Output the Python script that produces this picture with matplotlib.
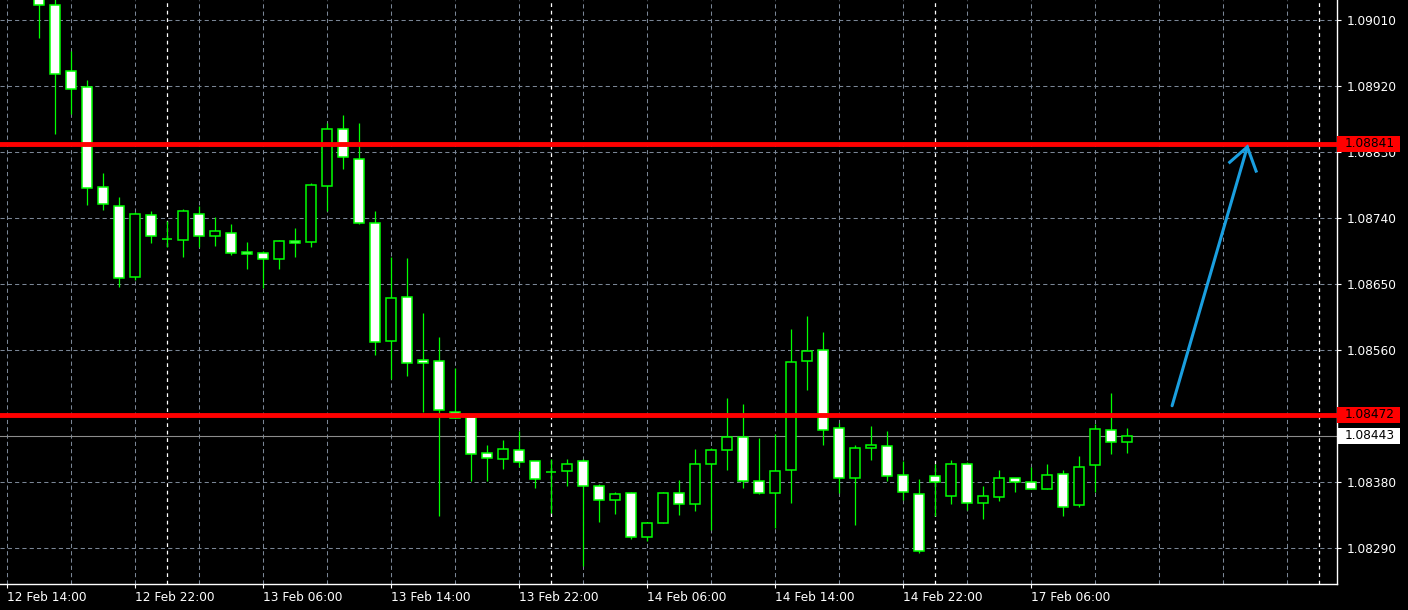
import numpy as np
import matplotlib.pyplot as plt
from matplotlib.patches import Rectangle

# EURUSD H1 candles, bar index 0 = 12 Feb 14:00 (bars 0-1 are above the visible range)
first_bar = 2
opens = [1.09060, 1.09030, 1.08940, 1.08918, 1.08782, 1.08757, 1.08659, 1.08744, 1.08712, 1.08710,
         1.08746, 1.08716, 1.08719, 1.08693, 1.08692, 1.08684, 1.08708, 1.08707, 1.08783, 1.08862,
         1.08821, 1.08733, 1.08572, 1.08632, 1.08546, 1.08545, 1.08476, 1.08469, 1.08419, 1.08412,
         1.08423, 1.08408, 1.08393, 1.08395, 1.08408, 1.08375, 1.08355, 1.08365, 1.08305, 1.08324,
         1.08365, 1.08350, 1.08405, 1.08423, 1.08442, 1.08382, 1.08365, 1.08396, 1.08545, 1.08560,
         1.08453, 1.08385, 1.08426, 1.08429, 1.08389, 1.08363, 1.08388, 1.08361, 1.08405, 1.08352,
         1.08359, 1.08385, 1.08380, 1.08371, 1.08391, 1.08348, 1.08403, 1.08451, 1.08434]
highs = [1.09075, 1.09050, 1.08968, 1.08928, 1.08801, 1.08769, 1.08748, 1.08750, 1.08736, 1.08752,
         1.08756, 1.08741, 1.08732, 1.08707, 1.08695, 1.08710, 1.08726, 1.08788, 1.08869, 1.08880,
         1.08870, 1.08750, 1.08687, 1.08685, 1.08610, 1.08578, 1.08535, 1.08470, 1.08430, 1.08437,
         1.08450, 1.08409, 1.08412, 1.08412, 1.08411, 1.08377, 1.08367, 1.08366, 1.08325, 1.08366,
         1.08383, 1.08425, 1.08427, 1.08494, 1.08486, 1.08440, 1.08445, 1.08588, 1.08606, 1.08584,
         1.08461, 1.08430, 1.08456, 1.08449, 1.08408, 1.08384, 1.08405, 1.08410, 1.08407, 1.08374,
         1.08396, 1.08386, 1.08401, 1.08405, 1.08397, 1.08416, 1.08459, 1.08502, 1.08453]
lows = [1.08985, 1.08854, 1.08882, 1.08758, 1.08751, 1.08646, 1.08655, 1.08706, 1.08701, 1.08687,
        1.08701, 1.08702, 1.08690, 1.08670, 1.08644, 1.08670, 1.08687, 1.08700, 1.08750, 1.08807,
        1.08732, 1.08553, 1.08521, 1.08525, 1.08475, 1.08334, 1.08467, 1.08382, 1.08382, 1.08398,
        1.08400, 1.08372, 1.08338, 1.08375, 1.08266, 1.08326, 1.08337, 1.08302, 1.08300, 1.08324,
        1.08335, 1.08341, 1.08315, 1.08396, 1.08372, 1.08364, 1.08317, 1.08352, 1.08506, 1.08431,
        1.08365, 1.08322, 1.08410, 1.08381, 1.08356, 1.08283, 1.08333, 1.08350, 1.08342, 1.08329,
        1.08354, 1.08367, 1.08370, 1.08370, 1.08333, 1.08346, 1.08366, 1.08418, 1.08419]
closes = [1.09031, 1.08936, 1.08916, 1.08781, 1.08759, 1.08658, 1.08746, 1.08716, 1.08712, 1.08749,
          1.08716, 1.08722, 1.08692, 1.08691, 1.08684, 1.08708, 1.08706, 1.08785, 1.08861, 1.08823,
          1.08733, 1.08571, 1.08631, 1.08542, 1.08542, 1.08478, 1.08467, 1.08418, 1.08413, 1.08425,
          1.08407, 1.08384, 1.08393, 1.08405, 1.08374, 1.08356, 1.08363, 1.08305, 1.08324, 1.08365,
          1.08350, 1.08404, 1.08423, 1.08442, 1.08382, 1.08365, 1.08395, 1.08543, 1.08558, 1.08451,
          1.08386, 1.08427, 1.08430, 1.08388, 1.08366, 1.08286, 1.08380, 1.08405, 1.08352, 1.08361,
          1.08386, 1.08380, 1.08370, 1.08389, 1.08346, 1.08401, 1.08452, 1.08434, 1.08443]

level_hi = 1.08841
level_lo = 1.08472
last_price = 1.08443

price_ticks = [1.08290, 1.08380, 1.08470, 1.08560, 1.08650, 1.08740, 1.08830, 1.08920, 1.09010]
# 1.08470 sits completely under the 1.08472 marker, so its text is not shown
price_labels = ['1.08290', '1.08380', '', '1.08560', '1.08650', '1.08740', '1.08830', '1.08920', '1.09010']
time_ticks = [0, 8, 16, 24, 32, 40, 48, 56, 64]
time_labels = ['12 Feb 14:00', '12 Feb 22:00', '13 Feb 06:00', '13 Feb 14:00', '13 Feb 22:00',
               '14 Feb 06:00', '14 Feb 14:00', '14 Feb 22:00', '17 Feb 06:00']
day_breaks = [10, 34, 58, 82]

# hand-drawn arrow (bar index, price)
arrow_x = [72.8, 77.5]
arrow_y = [1.08484, 1.08837]
head_x = [76.4, 77.5, 78.05]
head_y = [1.08816, 1.08837, 1.08804]

o = np.array(opens)
h = np.array(highs)
l = np.array(lows)
c = np.array(closes)
x = np.arange(first_bar, first_bar + len(o))
bull = c >= o

GREEN = '#00ff00'
GRID = '#7a8696'

fig = plt.figure(figsize=(14.08, 6.10), dpi=100, facecolor='black')
ax = fig.add_axes([0, 26 / 610, 1337 / 1408, 584 / 610], facecolor='black')
plt.rcParams['font.family'] = 'DejaVu Sans'

# grid
for gx in np.arange(0, 84, 4):
    ax.axvline(gx, color=GRID, lw=0.75, ls=(0, (4, 3)), zorder=0.5)
for gy in price_ticks:
    ax.axhline(gy, color=GRID, lw=0.75, ls=(0, (4, 3)), zorder=0.5)
for d in day_breaks:
    ax.axvline(d, color='white', lw=0.9, ls=(0, (3, 3)), zorder=0.6)

# current price line
ax.axhline(last_price, color='#8c8c8c', lw=0.8, zorder=1)

# candles
ax.vlines(x, l, h, color=GREEN, lw=0.9, zorder=2)
ax.bar(x, np.abs(c - o), bottom=np.minimum(o, c), width=0.64,
       color=np.where(bull, 'black', 'white'), edgecolor=GREEN, linewidth=1.1, zorder=3)

# horizontal levels
ax.axhline(level_hi, color='red', lw=3.5, zorder=4)
ax.axhline(level_lo, color='red', lw=3.5, zorder=4)

# arrow
ax.plot(arrow_x, arrow_y, color='#1a9fe0', lw=2.2, solid_capstyle='round', zorder=5)
ax.plot(head_x, head_y, color='#1a9fe0', lw=2.2, solid_joinstyle='miter', zorder=5)

ax.set_xlim(-7.3 / 16, (1337 - 7.3) / 16)
ax.set_ylim(1.082409, 1.090373)

# axes styling
for s in ['top', 'left']:
    ax.spines[s].set_visible(False)
for s in ['right', 'bottom']:
    ax.spines[s].set_color('white')
    ax.spines[s].set_linewidth(1)

ax.yaxis.tick_right()
ax.set_yticks(price_ticks)
ax.set_yticklabels(price_labels)
ax.set_xticks(time_ticks)
ax.set_xticklabels(time_labels)
for lab in ax.get_xticklabels():
    lab.set_horizontalalignment('left')
ax.tick_params(colors='white', labelcolor='white', labelsize=8.7, length=3, width=0.8)
ax.tick_params(axis='y', pad=4)
ax.tick_params(axis='x', pad=2)

# price boxes on the right scale
box_w = 63 / 1337
box_h = 16 * (1.090373 - 1.082409) / 584
tr = ax.get_yaxis_transform()
for val, fc in [(level_hi, 'red'), (level_lo, 'red'), (last_price, 'white')]:
    ax.add_patch(Rectangle((1.0, val - box_h / 2), box_w, box_h, transform=tr,
                           facecolor=fc, edgecolor='none', clip_on=False, zorder=6))
    ax.text(1345 / 1337, val, f'{val:.5f}', transform=tr, color='black', fontsize=8.7,
            ha='left', va='center', clip_on=False, zorder=7)

fig.savefig('out.png', dpi=100, facecolor='black')
